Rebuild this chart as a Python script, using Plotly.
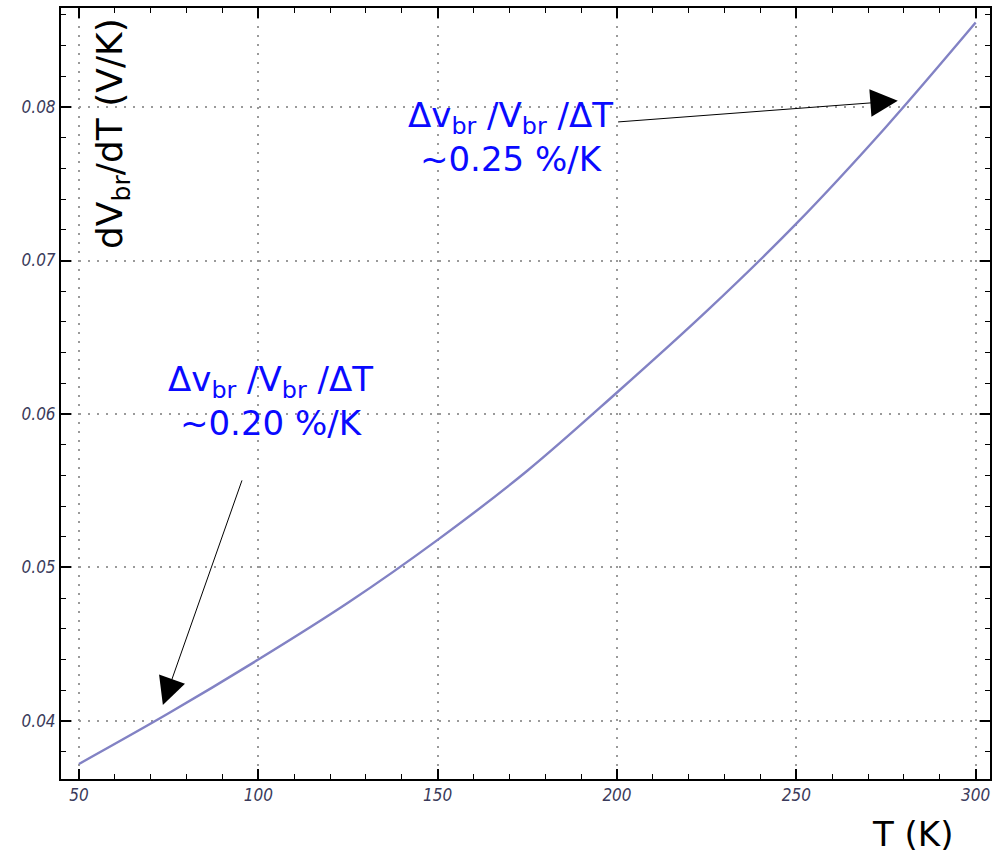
import plotly.graph_objects as go

T_vals = [50, 75, 100, 125, 150, 175, 200, 225, 250, 275, 300]
dVdT_vals = [0.0372, 0.0405, 0.0440, 0.0477, 0.0518, 0.0563, 0.0614, 0.0667, 0.0724, 0.0787, 0.0855]

x_ticks = [50, 100, 150, 200, 250, 300]
y_ticks = [0.04, 0.05, 0.06, 0.07, 0.08]
y_tick_labels = ["0.04", "0.05", "0.06", "0.07", "0.08"]

fig = go.Figure()
fig.add_trace(go.Scatter(x=T_vals, y=dVdT_vals, mode="lines", line=dict(color="#8282c4", width=2.4, shape="spline"),
                         showlegend=False, hoverinfo="skip"))

tickfont = dict(family="DejaVu Sans Condensed, DejaVu Sans", size=17, color="#3a3a5a", style="italic")
common = dict(showline=True, linecolor="black", linewidth=2, mirror="allticks",
              ticks="inside", ticklen=10, tickwidth=1.5, tickcolor="black",
              showgrid=True, gridcolor="#9a9a9a", gridwidth=1.6, griddash="2px,7px",
              zeroline=False, tickfont=tickfont)

fig.update_xaxes(range=[45, 304], tickvals=x_ticks,
                 minor=dict(dtick=10, tick0=50, ticks="inside", ticklen=5, tickcolor="black", tickwidth=1.2, showgrid=False),
                 **common)
fig.update_yaxes(range=[0.03622, 0.08645], tickvals=y_ticks, ticktext=y_tick_labels,
                 minor=dict(dtick=0.002, tick0=0.04, ticks="inside", ticklen=5, tickcolor="black", tickwidth=1.2, showgrid=False),
                 **common)

blue = "#0a0aff"
afont = dict(family="DejaVu Sans", size=34, color=blue)

fig.add_annotation(x=0.056, y=0.989, xref="paper", yref="paper", xanchor="center", yanchor="top",
                   text="dV<sub>br</sub>/dT (V/K)", textangle=-90, showarrow=False,
                   font=dict(family="DejaVu Sans", size=36, color="black"))
fig.add_annotation(x=0.962, y=-0.071, xref="paper", yref="paper", xanchor="right", yanchor="middle",
                   text="T (K)", showarrow=False,
                   font=dict(family="DejaVu Sans", size=34, color="black"))

fig.add_annotation(x=170.4, y=0.07805, xref="x", yref="y", text="Δv<sub>br</sub> /V<sub>br</sub> /ΔT<br>~0.25 %/K",
                   showarrow=False, font=afont, align="center")
fig.add_annotation(x=103.5, y=0.06085, xref="x", yref="y", text="Δv<sub>br</sub> /V<sub>br</sub> /ΔT<br>~0.20 %/K",
                   showarrow=False, font=afont, align="center")

fig.add_annotation(x=278.3, y=0.0804, ax=199.9, ay=0.07902, xref="x", yref="y", axref="x", ayref="y",
                   text="", showarrow=True, arrowhead=2, arrowsize=5.5, arrowwidth=1, arrowcolor="black")
fig.add_annotation(x=73.4, y=0.04104, ax=95.6, ay=0.05577, xref="x", yref="y", axref="x", ayref="y",
                   text="", showarrow=True, arrowhead=2, arrowsize=5.5, arrowwidth=1, arrowcolor="black")

fig.update_layout(width=997, height=855, margin=dict(l=61, r=5, t=8, b=76),
                  plot_bgcolor="white", paper_bgcolor="white")

fig.write_html("out.html", config={"displayModeBar": False},
               post_script="document.body.style.margin='0';")
